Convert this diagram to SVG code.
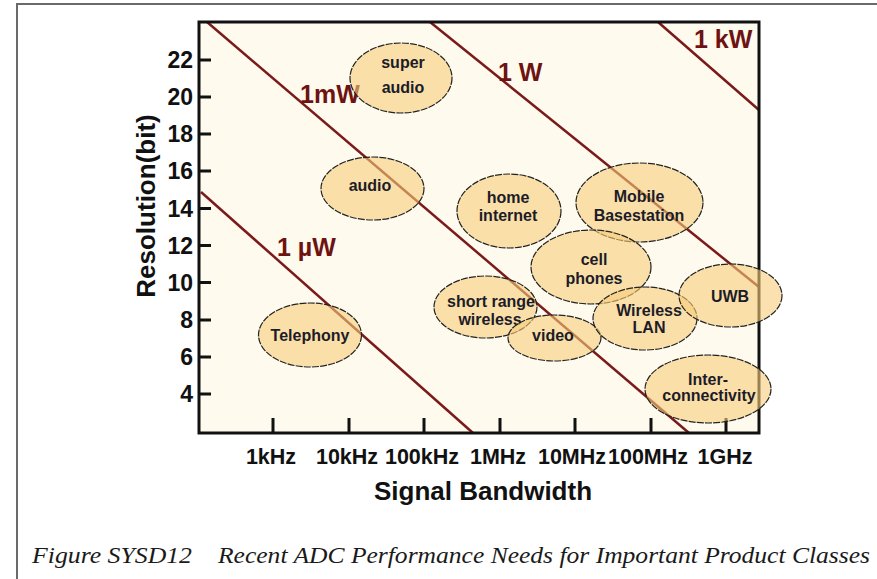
<svg xmlns="http://www.w3.org/2000/svg" width="877" height="579" viewBox="0 0 877 579">
<style>
.frame{fill:none;stroke:#6a6a6a;stroke-width:2}
.plot{fill:#fefaee;stroke:none}
.border{fill:none;stroke:#111;stroke-width:3}
.tick{stroke:#111;stroke-width:3}
.pw{stroke:#7a1a1a;stroke-width:2.5;fill:none}
.pwl{font-family:"Liberation Sans",Arial,sans-serif;font-weight:bold;font-size:25px;fill:#6e1212}
.ax{font-family:"Liberation Sans",Arial,sans-serif;font-weight:bold;fill:#111}
.yl{font-size:23px;text-anchor:end}
.xl{font-size:21.5px;text-anchor:middle}
.title{font-size:26px;text-anchor:middle}
.node ellipse{fill:#f6cd79;fill-opacity:0.6;stroke:#222;stroke-width:1.2;stroke-dasharray:7 1.2}
.node text{font-family:"Liberation Sans",Arial,sans-serif;font-weight:bold;font-size:16px;fill:#1c1c28;text-anchor:middle}
.cap{font-family:"Liberation Serif","Times New Roman",serif;font-style:italic;font-size:24px;fill:#1a1a1a}
</style>
<rect x="0" y="0" width="877" height="579" fill="#ffffff"/>
<path class="frame" d="M17,579 V4 H877"/>
<rect class="plot" x="199" y="22" width="560" height="411"/>

<g id="connectors">
<line class="pw" x1="201" y1="192" x2="473" y2="433"/>
<line class="pw" x1="207" y1="22" x2="689" y2="433"/>
<line class="pw" x1="430" y1="22" x2="759" y2="287"/>
<line class="pw" x1="658" y1="22" x2="759" y2="110"/>
</g>
<g id="power-labels">
<text class="pwl" x="300" y="103">1mW</text>
<text class="pwl" x="277" y="256">1 µW</text>
<text class="pwl" x="498" y="81">1 W</text>
<text class="pwl" x="694" y="48">1 kW</text>
</g>

<g id="axes">
<rect class="border" x="199" y="22" width="560" height="411"/>
<g class="tick">
<line x1="199" y1="60" x2="211" y2="60"/>
<line x1="199" y1="97" x2="211" y2="97"/>
<line x1="199" y1="134" x2="211" y2="134"/>
<line x1="199" y1="171" x2="211" y2="171"/>
<line x1="199" y1="208.5" x2="211" y2="208.5"/>
<line x1="199" y1="245.5" x2="211" y2="245.5"/>
<line x1="199" y1="282.5" x2="211" y2="282.5"/>
<line x1="199" y1="320" x2="211" y2="320"/>
<line x1="199" y1="357" x2="211" y2="357"/>
<line x1="199" y1="394" x2="211" y2="394"/>
<line x1="273" y1="418" x2="273" y2="433"/>
<line x1="349" y1="418" x2="349" y2="433"/>
<line x1="424" y1="418" x2="424" y2="433"/>
<line x1="500" y1="418" x2="500" y2="433"/>
<line x1="575" y1="418" x2="575" y2="433"/>
<line x1="651" y1="418" x2="651" y2="433"/>
<line x1="726" y1="418" x2="726" y2="433"/>
</g>
<g class="ax yl">
<text x="193" y="68">22</text>
<text x="193" y="105">20</text>
<text x="193" y="142">18</text>
<text x="193" y="179">16</text>
<text x="193" y="216.5">14</text>
<text x="193" y="253.5">12</text>
<text x="193" y="290.5">10</text>
<text x="193" y="328">8</text>
<text x="193" y="365">6</text>
<text x="193" y="402">4</text>
</g>
<g class="ax xl">
<text x="271" y="464">1kHz</text>
<text x="347" y="464">10kHz</text>
<text x="422" y="464">100kHz</text>
<text x="498" y="464">1MHz</text>
<text x="572" y="464">10MHz</text>
<text x="648" y="464">100MHz</text>
<text x="725" y="464">1GHz</text>
</g>
<text class="ax title" x="483" y="500">Signal Bandwidth</text>
<text class="ax title" transform="translate(155,206) rotate(-90)" x="0" y="0">Resolution(bit)</text>
</g>

<g id="super-audio" class="node"><ellipse cx="401" cy="78" rx="51" ry="35"/><text x="403" y="68">super</text><text x="403" y="93">audio</text></g>
<g id="audio" class="node"><ellipse cx="372.5" cy="188.5" rx="51.5" ry="31.5"/><text x="370" y="191">audio</text></g>
<g id="telephony" class="node"><ellipse cx="310" cy="335" rx="51.5" ry="32"/><text x="310" y="341">Telephony</text></g>
<g id="home-internet" class="node"><ellipse cx="509" cy="211" rx="52" ry="37"/><text x="508" y="203">home</text><text x="508" y="221">internet</text></g>
<g id="mobile-basestation" class="node"><ellipse cx="639.5" cy="202.5" rx="63.5" ry="39.5"/><text x="639" y="202">Mobile</text><text x="639" y="221">Basestation</text></g>
<g id="cell-phones" class="node"><ellipse cx="591" cy="267" rx="60" ry="37"/><text x="594" y="265">cell</text><text x="594" y="284">phones</text></g>
<g id="short-range-wireless" class="node"><ellipse cx="485.5" cy="307" rx="51.5" ry="31"/><text x="491" y="307">short range</text><text x="490" y="325">wireless</text></g>
<g id="video" class="node"><ellipse cx="554.5" cy="338" rx="46.5" ry="23"/><text x="553" y="341">video</text></g>
<g id="wireless-lan" class="node"><ellipse cx="645" cy="318.5" rx="52" ry="31.5"/><text x="649" y="316">Wireless</text><text x="649" y="333">LAN</text></g>
<g id="uwb" class="node"><ellipse cx="730.5" cy="295.5" rx="51.5" ry="31.5"/><text x="730" y="302">UWB</text></g>
<g id="interconnectivity" class="node"><ellipse cx="708" cy="389" rx="63" ry="34"/><text x="708" y="385">Inter-</text><text x="709" y="401">connectivity</text></g>

<g id="caption">
<text class="cap" x="32" y="563" textLength="160" lengthAdjust="spacingAndGlyphs">Figure SYSD12</text>
<text class="cap" x="218" y="563" textLength="652" lengthAdjust="spacingAndGlyphs">Recent ADC Performance Needs for Important Product Classes</text>
</g>
</svg>
